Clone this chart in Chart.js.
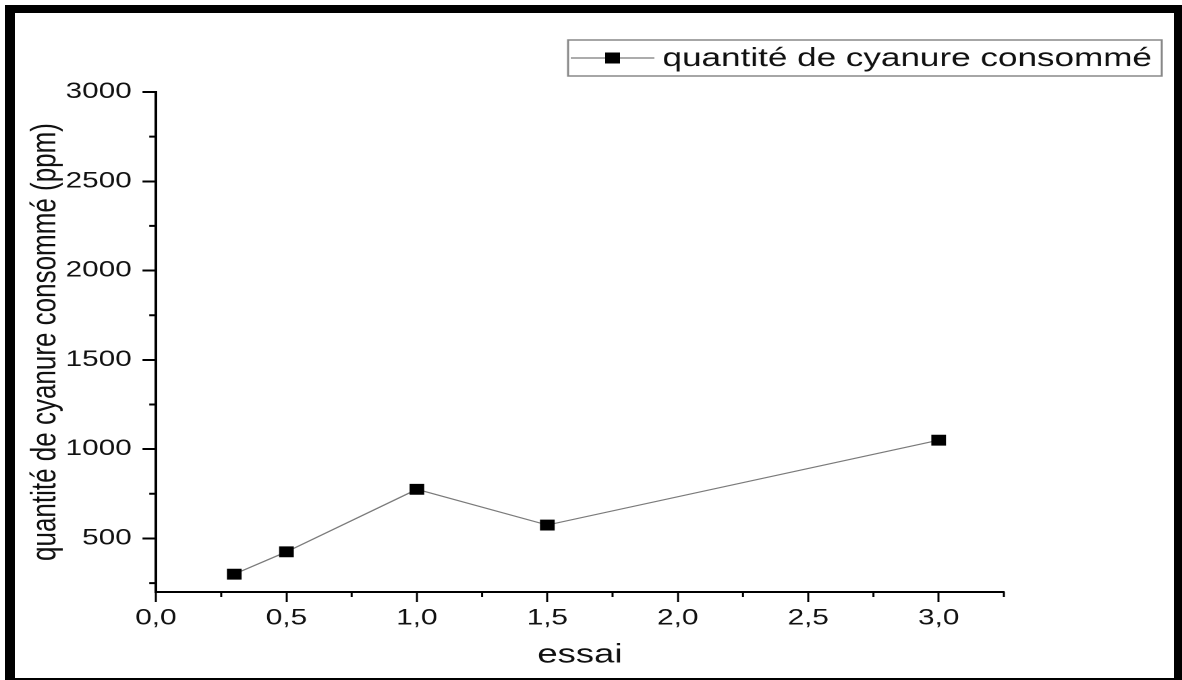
<!DOCTYPE html>
<html>
<head>
<meta charset="utf-8">
<script src="https://cdn.jsdelivr.net/npm/chart.js@4.4.1/dist/chart.umd.min.js"></script>
<style>
  html, body { margin: 0; padding: 0; background: #fff; overflow: hidden; }
  /* the figure is drawn narrow and stretched sideways, like the exported plot */
  #wrap { position: absolute; left: 0; top: 0; width: 876px; height: 680px;
          transform: scaleX(1.3493); transform-origin: 0 0; }
  #frame { position: absolute; left: 5px; top: 5px; width: 1177px; height: 675px;
           box-sizing: border-box; border: solid #000; border-width: 8px 8px 2px 10px;
           pointer-events: none; }
</style>
</head>
<body>
<div id="wrap"><canvas id="chart"></canvas></div>
<div id="frame"></div>
<script>
  // essai vs cyanide consumed
  const essai = [0.3, 0.5, 1.0, 1.5, 3.0];
  const cyanure = [300, 425, 775, 575, 1050];
  const seriesLabel = 'quantité de cyanure consommé';

  const xTicks = [0, 0.5, 1.0, 1.5, 2.0, 2.5, 3.0];
  const xMinor = [0.25, 0.75, 1.25, 1.75, 2.25, 2.75, 3.25];
  const yTicks = [500, 1000, 1500, 2000, 2500, 3000];
  const yMinor = [250, 750, 1250, 1750, 2250, 2750];

  const FONT = "'Liberation Sans', Arial, sans-serif";
  const INK = '#111';

  // short minor ticks on both axes
  const minorTicks = {
    id: 'minorTicks',
    afterDraw(chart) {
      const { ctx, chartArea, scales } = chart;
      ctx.save();
      ctx.strokeStyle = '#000';
      ctx.lineWidth = 1.5;
      ctx.beginPath();
      xMinor.forEach(v => {
        const px = scales.x.getPixelForValue(v);
        ctx.moveTo(px, chartArea.bottom);
        ctx.lineTo(px, chartArea.bottom + 5);
      });
      ctx.stroke();
      ctx.lineWidth = 2;
      ctx.beginPath();
      yMinor.forEach(v => {
        const py = scales.y.getPixelForValue(v);
        ctx.moveTo(chartArea.left - 5, py);
        ctx.lineTo(chartArea.left, py);
      });
      ctx.stroke();
      ctx.restore();
    }
  };

  // boxed legend in the top right: line, square marker, label
  const boxLegend = {
    id: 'boxLegend',
    afterDraw(chart) {
      const { ctx } = chart;
      const ds = chart.data.datasets[0];
      const left = 421, top = 40, w = 440, h = 36;
      const cy = top + h / 2;
      ctx.save();
      ctx.strokeStyle = '#888';
      ctx.lineWidth = 1.5;
      ctx.strokeRect(left, top, w, h);
      ctx.strokeStyle = ds.borderColor;
      ctx.lineWidth = 1.2;
      ctx.beginPath();
      ctx.moveTo(left + 2, cy);
      ctx.lineTo(left + 64, cy);
      ctx.stroke();
      ctx.fillStyle = '#000';
      ctx.fillRect(left + 33 - 5.5, cy - 5.5, 11, 11);
      ctx.fillStyle = INK;
      ctx.font = '26px ' + FONT;
      ctx.textBaseline = 'middle';
      ctx.fillText(ds.label, left + 70, cy + 1);
      ctx.restore();
    }
  };

  new Chart(document.getElementById('chart'), {
    type: 'line',
    data: {
      datasets: [{
        label: seriesLabel,
        data: essai.map((x, i) => ({ x: x, y: cyanure[i] })),
        borderColor: '#7a7a7a',
        borderWidth: 1.2,
        pointStyle: 'rect',
        pointRadius: 7,
        pointBackgroundColor: '#000',
        pointBorderColor: '#000',
        pointBorderWidth: 1,
        tension: 0
      }]
    },
    options: {
      responsive: true,
      maintainAspectRatio: false,
      animation: false,
      devicePixelRatio: 2,
      layout: { padding: { top: 92, right: 132, bottom: 0, left: 0 } },
      plugins: { legend: { display: false }, tooltip: { enabled: false } },
      scales: {
        x: {
          type: 'linear',
          min: 0,
          max: 3.25,
          afterBuildTicks: s => { s.ticks = xTicks.map(v => ({ value: v })); },
          afterFit: s => { s.height = 88; },
          ticks: {
            color: INK,
            font: { family: FONT, size: 22 },
            padding: 3,
            maxRotation: 0,
            autoSkip: false,
            callback: v => v.toFixed(1).replace('.', ',')
          },
          grid: { drawOnChartArea: false, tickLength: 10, tickWidth: 1.5, tickColor: '#000' },
          border: { display: true, color: '#000', width: 2 },
          title: {
            display: true, text: 'essai', color: INK,
            font: { family: FONT, size: 27 },
            padding: { top: 0, bottom: 9 }
          }
        },
        y: {
          min: 200,
          max: 3000,
          afterBuildTicks: s => { s.ticks = yTicks.map(v => ({ value: v })); },
          afterFit: s => { s.width = 115.6; },
          ticks: {
            color: INK,
            font: { family: FONT, size: 22 },
            padding: 8,
            callback: v => String(v)
          },
          grid: { drawOnChartArea: false, tickLength: 10, tickWidth: 2, tickColor: '#000' },
          border: { display: true, color: '#000', width: 2 },
          title: {
            display: true, text: 'quantité de cyanure consommé (ppm)', color: INK,
            font: { family: FONT, size: 26 },
            padding: { top: 18, bottom: 0 }
          }
        }
      }
    },
    plugins: [minorTicks, boxLegend]
  });
</script>
</body>
</html>
